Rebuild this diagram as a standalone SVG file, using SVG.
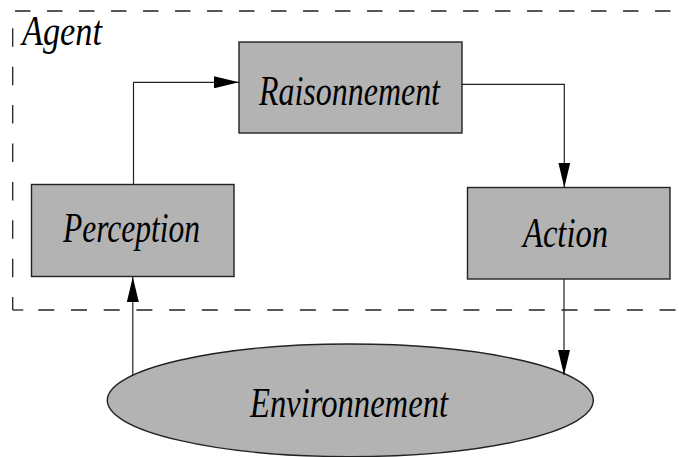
<svg xmlns="http://www.w3.org/2000/svg" width="679" height="457" viewBox="0 0 679 457">
  <style>
    .box { fill: #b3b3b3; stroke: #222; stroke-width: 1.4; }
    .lbl { font-family: "Liberation Serif", "Times New Roman", serif; font-style: italic; font-size: 42px; fill: #000; }
    .frame { fill: none; stroke: #222; stroke-width: 1.3; }
    .wire { fill: none; stroke: #222; stroke-width: 1.2; }
  </style>
  <defs>
    <marker id="arrow" viewBox="0 0 25 12" refX="25" refY="6" markerWidth="25" markerHeight="12" markerUnits="userSpaceOnUse" orient="auto">
      <path d="M0,0 L25,6 L0,12 Z" fill="#000"/>
    </marker>
  </defs>

  <rect width="679" height="457" fill="#fff"/>

  <!-- agent boundary (dashed frame, open on the right) -->
  <g id="agent">
    <line class="frame" x1="15" y1="11" x2="679" y2="11" stroke-dasharray="15.5 16.5"/>
    <line class="frame" x1="12.7" y1="28.3" x2="12.7" y2="310" stroke-dasharray="18.5 19.9"/>
    <line class="frame" x1="12.7" y1="310" x2="23.3" y2="310"/>
    <line class="frame" x1="38.3" y1="310" x2="679" y2="310" stroke-dasharray="16 16.7"/>
    <text class="lbl" x="22" y="44.5" textLength="80" lengthAdjust="spacingAndGlyphs">Agent</text>
  </g>

  <g id="raisonnement">
    <rect class="box" x="239" y="42" width="223" height="91"/>
    <text class="lbl" x="259" y="104.5" textLength="181" lengthAdjust="spacingAndGlyphs">Raisonnement</text>
  </g>

  <g id="perception">
    <rect class="box" x="31.5" y="184.5" width="202.5" height="92"/>
    <text class="lbl" x="63" y="241.5" textLength="137" lengthAdjust="spacingAndGlyphs">Perception</text>
  </g>

  <g id="action">
    <rect class="box" x="467.5" y="187.5" width="202.5" height="91.5"/>
    <text class="lbl" x="523" y="246.5" textLength="85" lengthAdjust="spacingAndGlyphs">Action</text>
  </g>

  <g id="environnement">
    <ellipse class="box" cx="350.3" cy="400.3" rx="243" ry="56.3"/>
    <text class="lbl" x="250" y="416.5" textLength="198" lengthAdjust="spacingAndGlyphs">Environnement</text>
  </g>

  <g id="connectors">
    <!-- perception -> raisonnement -->
    <polyline class="wire" points="133.5,184.5 133.5,82.3 239,82.3" marker-end="url(#arrow)"/>
    <!-- raisonnement -> action -->
    <polyline class="wire" points="462,84.3 564.3,84.3 564.3,187.5" marker-end="url(#arrow)"/>
    <!-- action -> environnement -->
    <line class="wire" x1="564" y1="279" x2="564" y2="375" marker-end="url(#arrow)"/>
    <!-- environnement -> perception -->
    <line class="wire" x1="132.8" y1="375" x2="132.8" y2="277" marker-end="url(#arrow)"/>
  </g>
</svg>
